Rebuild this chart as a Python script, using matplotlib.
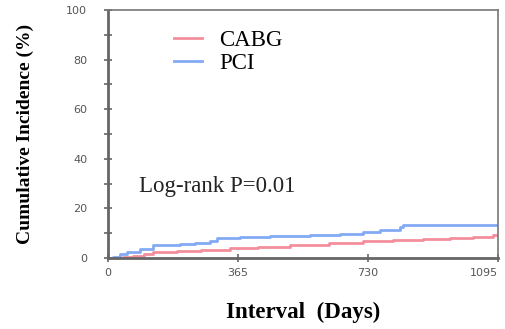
import matplotlib.pyplot as plt
import numpy as np

# cumulative incidence (%), step curves
pci_days = [0, 14, 34, 53, 90, 126, 202, 244, 287, 306, 371, 455, 567, 652, 716, 764, 820, 829, 1095]
pci_inc = [0, 0.5, 1.5, 2.5, 3.5, 5.2, 5.5, 6.2, 6.8, 8.0, 8.5, 8.8, 9.2, 9.8, 10.4, 11.2, 12.5, 13.3, 13.3]

cabg_days = [0, 42, 70, 100, 126, 194, 260, 343, 420, 511, 620, 716, 800, 885, 960, 1025, 1080, 1095]
cabg_inc = [0, 0.3, 1.0, 1.8, 2.5, 2.9, 3.3, 3.9, 4.5, 5.2, 6.0, 6.8, 7.1, 7.5, 8.0, 8.6, 9.2, 9.2]

xticks = [0, 365, 730, 1095]

plt.rcParams['font.family'] = ['Liberation Serif', 'DejaVu Serif']

fig = plt.figure(figsize=(5.06, 3.29), dpi=100)
ax = fig.add_axes([108/506, 1 - 258/329, 390/506, 248/329])

ax.step(cabg_days, cabg_inc, where='post', color='#f27a8c', lw=2, alpha=0.85, label='CABG')
ax.step(pci_days, pci_inc, where='post', color='#6d9bf2', lw=2, alpha=0.85, label='PCI')

ax.set_xlim(0, 1095)
ax.set_ylim(0, 100)
ax.set_xticks(xticks)
ax.set_yticks(np.arange(0, 101, 20))
ax.set_yticks(np.arange(10, 100, 20), minor=True)
ax.tick_params(axis='both', which='both', direction='inout', length=6, width=1.2,
               color='#666666', labelsize=8, labelcolor='#555555')
ax.tick_params(axis='y', pad=12)
ax.tick_params(axis='x', pad=4)
for lab in ax.get_xticklabels() + ax.get_yticklabels():
    lab.set_family('DejaVu Sans')
ax.get_xticklabels()[-1].set_horizontalalignment('right')

for s in ['left', 'bottom']:
    ax.spines[s].set_color('#666666')
    ax.spines[s].set_linewidth(2)
for s in ['top', 'right']:
    ax.spines[s].set_color('#777777')
    ax.spines[s].set_linewidth(1.2)

ax.legend(loc='upper left', bbox_to_anchor=(0.135, 0.975), frameon=False, fontsize=16.5,
          handlelength=1.2, handletextpad=0.75, labelspacing=0.1, borderaxespad=0.2)

ax.text(0.08, 0.29, 'Log-rank P=0.01', transform=ax.transAxes, fontsize=16.5,
        color='#222222', va='center')

ax.set_ylabel('Cumulative Incidence (%)', fontsize=14, fontweight='bold')
ax.yaxis.set_label_coords(-74/390, 0.5)
ax.set_xlabel('Interval  (Days)', fontsize=16.5, fontweight='bold')
ax.xaxis.set_label_coords(0.5, -44/248)

fig.savefig('out.png', dpi=100)
